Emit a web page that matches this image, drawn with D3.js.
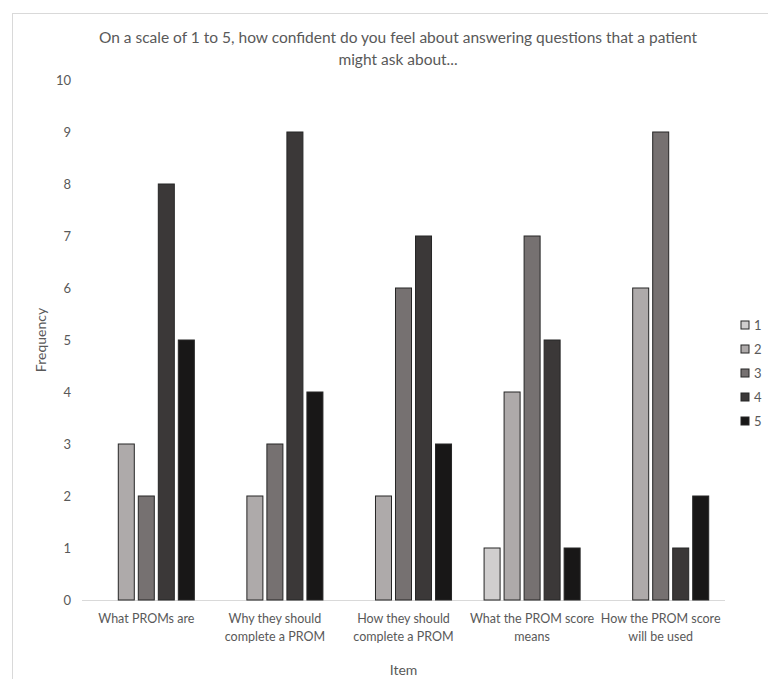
<!DOCTYPE html>
<html>
<head>
<meta charset="utf-8">
<script src="https://cdn.jsdelivr.net/npm/d3@7"></script>
<style>
    body { margin: 0; background: #fff; }
    svg text { font-family: Lato, "Open Sans", sans-serif; fill: #595959; }
</style>
</head>
<body>
<svg id="chart" width="768" height="679"></svg>
<script>
"use strict";

// Chart data

var categories = [
    ["What PROMs are"],
    ["Why they should", "complete a PROM"],
    ["How they should", "complete a PROM"],
    ["What the PROM score", "means"],
    ["How the PROM score", "will be used"]
];
var seriesNames = ["1", "2", "3", "4", "5"];
var series1 = [0, 0, 0, 1, 0],
    series2 = [3, 2, 2, 4, 6],
    series3 = [2, 3, 6, 7, 9],
    series4 = [8, 9, 7, 5, 1],
    series5 = [5, 4, 3, 1, 2];
var yTicks = [0, 1, 2, 3, 4, 5, 6, 7, 8, 9, 10];
var titleLines = [
    "On a scale of 1 to 5, how confident do you feel about answering questions that a patient",
    "might ask about..."
];

var allSeries = [series1, series2, series3, series4, series5],
    colors = ["#d0cece", "#aeaaaa", "#767171", "#3b3838", "#181717"];

var svg = d3.select("#chart"),
    plot = { left: 82, right: 725, top: 80, bottom: 600 };

// outer chart frame (runs off the right and bottom of the picture)
svg.append("rect")
    .attr("x", 12.5).attr("y", 13.5)
    .attr("width", 800).attr("height", 700)
    .attr("fill", "none")
    .attr("stroke", "#d9d9d9");

// title
svg.append("g").selectAll("text")
    .data(titleLines)
    .enter().append("text")
    .attr("x", 398)
    .attr("y", function (d, i) { return 43 + i * 22; })
    .attr("text-anchor", "middle")
    .style("font-size", "15.5px")
    .text(function (d) { return d; });

var x0 = d3.scaleBand()
    .domain(d3.range(categories.length))
    .range([plot.left, plot.right])
    .paddingInner(0.222)
    .paddingOuter(0.111);

var x1 = d3.scaleBand()
    .domain(d3.range(seriesNames.length))
    .range([0, x0.bandwidth()])
    .paddingInner(0.2)
    .paddingOuter(0.1);

var y = d3.scaleLinear()
    .domain([0, 10])
    .range([plot.bottom, plot.top]);

// y tick labels, no axis line
var yAxis = svg.append("g")
    .attr("transform", "translate(" + plot.left + ",0)")
    .call(d3.axisLeft(y).tickValues(yTicks).tickSize(0).tickPadding(11));
yAxis.select(".domain").remove();
yAxis.selectAll("text")
    .style("font-size", "13px")
    .style("font-family", "Lato, sans-serif")
    .attr("fill", "#595959");

// baseline
svg.append("line")
    .attr("x1", plot.left).attr("x2", plot.right)
    .attr("y1", y(0) + 0.5).attr("y2", y(0) + 0.5)
    .attr("stroke", "#d9d9d9");

// bars: one group per category
var barData = [];
categories.forEach(function (c, ci) {
    allSeries.forEach(function (s, si) {
        barData.push({ cat: ci, ser: si, value: s[ci] });
    });
});

svg.append("g").selectAll("rect")
    .data(barData.filter(function (d) { return d.value > 0; }))
    .enter().append("rect")
    .attr("x", function (d) { return x0(d.cat) + x1(d.ser); })
    .attr("y", function (d) { return y(d.value); })
    .attr("width", x1.bandwidth())
    .attr("height", function (d) { return y(0) - y(d.value); })
    .attr("fill", function (d) { return colors[d.ser]; })
    .attr("stroke", "#262626")
    .attr("stroke-width", 1);

// category labels (wrapped by hand like the original)
var catLabels = svg.append("g").selectAll("text")
    .data(categories)
    .enter().append("text")
    .attr("x", function (d, i) { return x0(i) + x0.bandwidth() / 2; })
    .attr("y", 623)
    .attr("text-anchor", "middle")
    .style("font-size", "12.5px");
catLabels.selectAll("tspan")
    .data(function (d) { return d; })
    .enter().append("tspan")
    .attr("x", function () { return d3.select(this.parentNode).attr("x"); })
    .attr("dy", function (d, i) { return i === 0 ? 0 : 18; })
    .text(function (d) { return d; });

// axis titles
svg.append("text")
    .attr("x", (plot.left + plot.right) / 2)
    .attr("y", 675)
    .attr("text-anchor", "middle")
    .style("font-size", "14px")
    .text("Item");

svg.append("text")
    .attr("transform", "translate(46," + ((plot.top + plot.bottom) / 2) + ") rotate(-90)")
    .attr("text-anchor", "middle")
    .style("font-size", "14px")
    .text("Frequency");

// legend
var legend = svg.append("g").selectAll("g")
    .data(seriesNames)
    .enter().append("g")
    .attr("transform", function (d, i) { return "translate(741," + (321 + i * 24) + ")"; });

legend.append("rect")
    .attr("width", 8).attr("height", 8)
    .attr("fill", function (d, i) { return colors[i]; })
    .attr("stroke", "#262626");

legend.append("text")
    .attr("x", 13)
    .attr("y", 9)
    .style("font-size", "13px")
    .text(function (d) { return d; });
</script>
</body>
</html>
